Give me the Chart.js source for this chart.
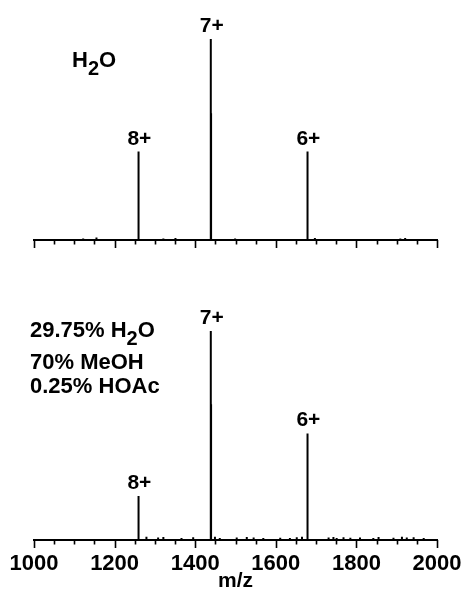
<!DOCTYPE html>
<html>
<head>
<meta charset="utf-8">
<script src="https://cdn.jsdelivr.net/npm/chart.js@4.4.1/dist/chart.umd.min.js"></script>
<style>
  html, body { margin: 0; padding: 0; background: #fff; overflow: hidden; }
  #wrap { position: relative; width: 463px; height: 589px; }
  #topBox { position: absolute; left: 0; top: 0; width: 463px; height: 260px; }
  #botBox { position: absolute; left: 0; top: 270px; width: 463px; height: 322px; }
</style>
</head>
<body>
<div id="wrap">
  <div id="topBox"><canvas id="topSpec"></canvas></div>
  <div id="botBox"><canvas id="botSpec"></canvas></div>
</div>
<script>
// charge states and their m/z
var chargeStates = ['8+', '7+', '6+'];
var peakMz = [1259.0, 1438.7, 1678.3];

// relative intensities (%)
var topPeak = [44, 100, 44];
var topShoulder = [25, 63, 8];
var botPeak = [21, 100, 51];
var botShoulder = [10.5, 65, 21];

// small baseline spikes
var topNoiseMz = [1122, 1155, 1321, 1351, 1499, 1697, 1909, 1921];
var topNoise = [0.8, 1.2, 0.8, 1.0, 0.7, 1.0, 0.8, 1.0];
var botNoiseMz = [1279, 1308, 1321, 1366, 1395, 1449, 1461, 1503, 1528, 1545, 1569, 1611, 1635, 1652,
                  1665, 1731, 1743, 1751, 1768, 1785, 1809, 1842, 1855, 1892, 1913, 1925, 1942, 1967];
var botNoise = [1.5, 1.2, 1.4, 1.0, 1.3, 1.6, 1.0, 1.2, 1.4, 1.2, 1.0, 1.1, 1.0, 1.3,
                1.6, 1.2, 1.4, 1.0, 1.3, 1.1, 1.2, 1.0, 1.4, 1.1, 1.5, 1.2, 1.3, 1.0];

var axisLabels = [1000, 1200, 1400, 1600, 1800, 2000];

var FONT = '"Liberation Sans", Arial, Helvetica, sans-serif';

function buildSticks(main, shoulder, noiseMz, noise) {
  var list = [];
  peakMz.forEach(function (m, i) {
    list.push({ mz: m, h: main[i] });
    list.push({ mz: m + 0.7, h: shoulder[i] });
  });
  noiseMz.forEach(function (m, i) {
    list.push({ mz: m, h: noise[i] });
  });
  list.sort(function (a, b) { return a.mz - b.mz; });
  var pts = [{ x: 1000, y: 0 }];
  list.forEach(function (p) {
    pts.push({ x: p.mz, y: 0 }, { x: p.mz, y: p.h }, { x: p.mz, y: 0 });
  });
  pts.push({ x: 2000, y: 0 });
  return pts;
}

// tick marks under the axis, from the scale's own ticks
var tickMarks = {
  id: 'tickMarks',
  afterDatasetsDraw: function (chart) {
    var ctx = chart.ctx, x = chart.scales.x, bottom = chart.chartArea.bottom;
    ctx.save();
    ctx.strokeStyle = '#000';
    ctx.lineWidth = 1.6;
    x.ticks.forEach(function (t) {
      var px = Math.round(x.getPixelForValue(t.value)) + 0.5;
      var len = (t.value % 200 === 0) ? 8 : 4.5;
      ctx.beginPath();
      ctx.moveTo(px, bottom);
      ctx.lineTo(px, bottom + len);
      ctx.stroke();
    });
    ctx.restore();
  }
};

function drawFormula(ctx, parts, x, y) {
  parts.forEach(function (p) {
    var txt = p[0], sub = p[1];
    ctx.font = 'bold ' + (sub ? 20 : 22) + 'px ' + FONT;
    ctx.fillText(txt, x, y + (sub ? 8 : 0));
    x += ctx.measureText(txt).width;
  });
}

var peakText = {
  id: 'peakText',
  afterDatasetsDraw: function (chart, args, opts) {
    var ctx = chart.ctx, x = chart.scales.x, y = chart.scales.y;
    ctx.save();
    ctx.fillStyle = '#000';
    ctx.textBaseline = 'alphabetic';
    ctx.textAlign = 'center';
    ctx.font = 'bold 21px ' + FONT;
    opts.heights.forEach(function (h, i) {
      ctx.fillText(chargeStates[i], x.getPixelForValue(peakMz[i]) + 1, y.getPixelForValue(h) - 7);
    });
    ctx.textAlign = 'left';
    opts.notes.forEach(function (n) {
      drawFormula(ctx, n.parts, n.x, n.y);
    });
    ctx.restore();
  }
};

function makeSpectrum(id, main, shoulder, noiseMz, noise, cfg) {
  return new Chart(document.getElementById(id), {
    type: 'scatter',
    data: {
      datasets: [{
        data: buildSticks(main, shoulder, noiseMz, noise),
        showLine: true,
        borderColor: '#000',
        borderWidth: 2,
        pointRadius: 0,
        tension: 0
      }]
    },
    options: {
      responsive: true,
      maintainAspectRatio: false,
      animation: false,
      layout: { padding: { top: cfg.padTop, left: 34, right: 26, bottom: 0 } },
      plugins: {
        legend: { display: false },
        tooltip: { enabled: false },
        peakText: { heights: main, notes: cfg.notes }
      },
      scales: {
        x: {
          type: 'linear',
          min: 1000,
          max: 2000,
          afterFit: function (s) {
            s.height = cfg.axisHeight;
            s.paddingLeft = 0;
            s.paddingRight = 0;
          },
          grid: { display: false, drawTicks: false },
          border: { display: true, color: '#000', width: 2 },
          ticks: {
            display: cfg.showLabels,
            stepSize: 50,
            autoSkip: false,
            maxRotation: 0,
            padding: 11,
            color: '#000',
            font: { family: FONT, size: 22, weight: 'bold' },
            callback: function (v) { return axisLabels.indexOf(v) >= 0 ? String(v) : ''; }
          },
          title: {
            display: cfg.showLabels,
            text: 'm/z',
            color: '#000',
            padding: 0,
            font: { family: FONT, size: 21, weight: 'bold', lineHeight: 1 }
          }
        },
        y: { display: false, min: 0, max: 100 }
      }
    },
    plugins: [tickMarks, peakText]
  });
}

makeSpectrum('topSpec', topPeak, topShoulder, topNoiseMz, topNoise, {
  padTop: 39, axisHeight: 20, showLabels: false,
  notes: [{ parts: [['H', false], ['2', true], ['O', false]], x: 72, y: 67 }]
});

makeSpectrum('botSpec', botPeak, botShoulder, botNoiseMz, botNoise, {
  padTop: 61, axisHeight: 52, showLabels: true,
  notes: [
    { parts: [['29.75% H', false], ['2', true], ['O', false]], x: 30, y: 67 },
    { parts: [['70% MeOH', false]], x: 30, y: 99 },
    { parts: [['0.25% HOAc', false]], x: 30, y: 123 }
  ]
});
</script>
</body>
</html>
